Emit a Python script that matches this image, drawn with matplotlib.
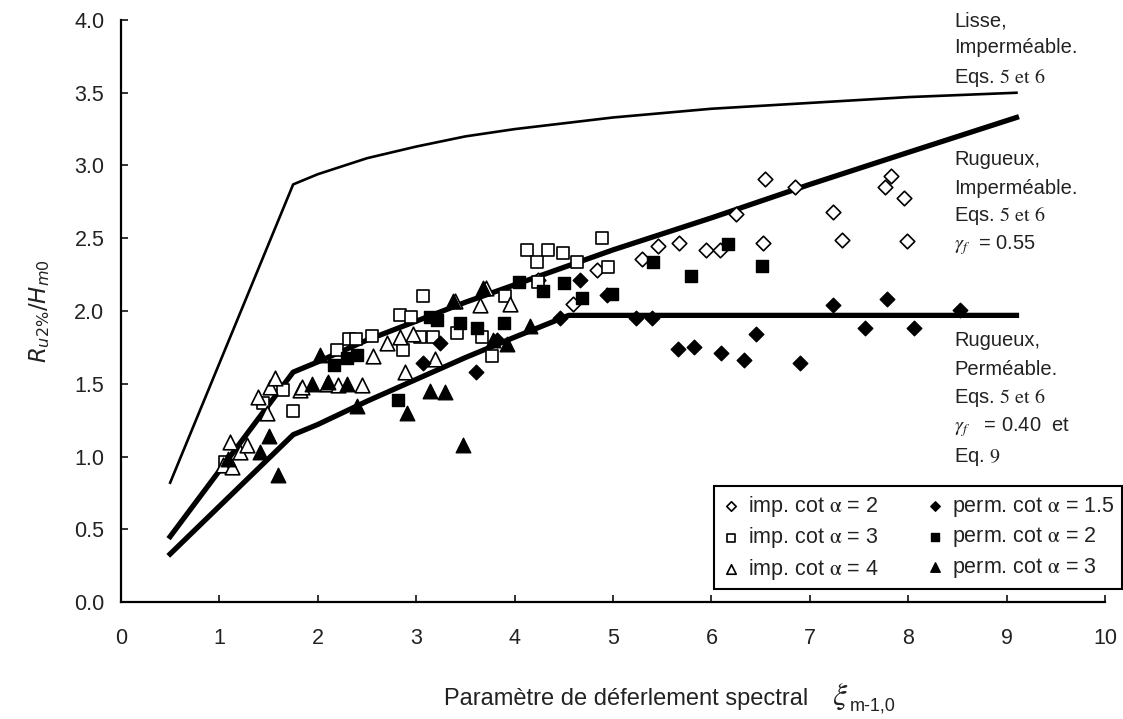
import matplotlib.pyplot as plt

plt.rcParams['font.family'] = ['Liberation Sans', 'DejaVu Sans']
plt.rcParams['mathtext.fontset'] = 'stix'

# design curves
lisse_x = [0.5, 1.75, 2.0, 2.5, 3.0, 3.5, 4.0, 5.0, 6.0, 7.0, 8.0, 9.1]
lisse_y = [0.82, 2.87, 2.94, 3.05, 3.13, 3.20, 3.25, 3.33, 3.39, 3.43, 3.47, 3.50]

rug_imp_x = [0.5, 1.75, 2.0, 2.5, 3.0, 3.5, 4.0, 5.0, 6.0, 7.0, 8.0, 9.1]
rug_imp_y = [0.45, 1.58, 1.65, 1.80, 1.93, 2.06, 2.18, 2.42, 2.64, 2.87, 3.09, 3.33]

rug_perm_x = [0.5, 1.75, 2.0, 2.5, 3.0, 3.5, 4.0, 4.55, 9.1]
rug_perm_y = [0.33, 1.15, 1.22, 1.38, 1.53, 1.68, 1.82, 1.97, 1.97]

# measurements
imp2_x = [4.24, 4.59, 4.84, 5.29, 5.46, 5.67, 5.95, 6.09, 6.25, 6.52, 6.54, 6.85,
          7.24, 7.33, 7.76, 7.83, 7.96, 7.99]
imp2_y = [2.21, 2.05, 2.28, 2.36, 2.45, 2.47, 2.42, 2.42, 2.67, 2.47, 2.91, 2.85,
          2.68, 2.49, 2.85, 2.93, 2.78, 2.48]

imp3_x = [1.06, 1.44, 1.65, 1.75, 2.20, 2.32, 2.39, 2.55, 2.84, 2.87, 2.95, 3.04,
          3.07, 3.17, 3.41, 3.67, 3.77, 3.90, 4.13, 4.23, 4.24, 4.34, 4.49, 4.63,
          4.89, 4.95]
imp3_y = [0.96, 1.37, 1.46, 1.31, 1.73, 1.81, 1.81, 1.83, 1.97, 1.73, 1.96, 1.82,
          2.10, 1.82, 1.85, 1.82, 1.69, 2.10, 2.42, 2.34, 2.20, 2.42, 2.40, 2.34,
          2.50, 2.30]

imp4_x = [1.04, 1.11, 1.13, 1.21, 1.28, 1.39, 1.48, 1.51, 1.57, 1.82, 1.84, 2.09,
          2.21, 2.45, 2.56, 2.70, 2.84, 2.89, 2.97, 3.19, 3.39, 3.65, 3.71, 3.95]
imp4_y = [0.94, 1.10, 0.93, 1.03, 1.08, 1.41, 1.30, 1.48, 1.54, 1.46, 1.48, 1.50,
          1.49, 1.49, 1.69, 1.78, 1.82, 1.58, 1.84, 1.67, 2.07, 2.04, 2.16, 2.05]

perm15_x = [3.07, 3.24, 3.61, 3.82, 4.46, 4.66, 4.94, 5.23, 5.40, 5.66, 5.82, 6.10,
            6.33, 6.45, 6.90, 7.24, 7.56, 7.78, 8.06, 8.53]
perm15_y = [1.64, 1.78, 1.58, 1.80, 1.95, 2.21, 2.11, 1.95, 1.95, 1.74, 1.75, 1.71,
            1.66, 1.84, 1.64, 2.04, 1.88, 2.08, 1.88, 2.01]

perm2_x = [2.17, 2.30, 2.40, 2.82, 3.14, 3.21, 3.45, 3.62, 3.89, 4.04, 4.29, 4.50,
           4.69, 4.99, 5.41, 5.79, 6.17, 6.51]
perm2_y = [1.63, 1.68, 1.70, 1.39, 1.96, 1.94, 1.92, 1.88, 1.92, 2.20, 2.14, 2.19,
           2.09, 2.12, 2.34, 2.24, 2.46, 2.31]

perm3_x = [1.09, 1.41, 1.50, 1.60, 1.94, 2.02, 2.10, 2.30, 2.40, 2.91, 3.14, 3.29,
           3.37, 3.48, 3.68, 3.78, 3.92, 4.16]
perm3_y = [0.98, 1.03, 1.14, 0.87, 1.50, 1.70, 1.51, 1.50, 1.35, 1.30, 1.45, 1.44,
           2.07, 1.08, 2.16, 1.80, 1.77, 1.90]

fig = plt.figure(figsize=(11.23, 7.19), dpi=100)
ax = fig.add_axes([0.1077, 0.1627, 0.8763, 0.8095])

ax.plot(lisse_x, lisse_y, color='k', lw=1.9, zorder=2)
ax.plot(rug_imp_x, rug_imp_y, color='k', lw=3.8, zorder=2)
ax.plot(rug_perm_x, rug_perm_y, color='k', lw=3.8, zorder=2)

open_kw = dict(facecolor='white', edgecolor='k', linewidths=1.2, zorder=3)
fill_kw = dict(facecolor='k', edgecolor='k', linewidths=1.0, zorder=3)
ax.scatter(imp2_x, imp2_y, marker='D', s=55, label=r'imp. cot $\mathrm{\alpha}$ = 2', **open_kw)
ax.scatter(imp3_x, imp3_y, marker='s', s=75, label=r'imp. cot $\mathrm{\alpha}$ = 3', **open_kw)
ax.scatter(imp4_x, imp4_y, marker='^', s=110, label=r'imp. cot $\mathrm{\alpha}$ = 4', **open_kw)
ax.scatter(perm15_x, perm15_y, marker='D', s=55, label=r'perm. cot $\mathrm{\alpha}$ = 1.5', **fill_kw)
ax.scatter(perm2_x, perm2_y, marker='s', s=75, label=r'perm. cot $\mathrm{\alpha}$ = 2', **fill_kw)
ax.scatter(perm3_x, perm3_y, marker='^', s=110, label=r'perm. cot $\mathrm{\alpha}$ = 3', **fill_kw)

ax.set_xlim(0, 10)
ax.set_ylim(0, 4.0)
ax.set_xticks(range(0, 11))
ax.set_yticks([0.0, 0.5, 1.0, 1.5, 2.0, 2.5, 3.0, 3.5, 4.0])
ax.set_yticklabels(['{:.1f}'.format(v) for v in ax.get_yticks()])
ax.tick_params(direction='in', length=5, width=1.3, labelsize=15.5, colors='#222222')
ax.tick_params(axis='x', pad=19)
ax.tick_params(axis='y', pad=12)
for side in ['top', 'right']:
    ax.spines[side].set_visible(False)
for side in ['left', 'bottom']:
    ax.spines[side].set_linewidth(1.6)

ax.set_ylabel(r'$R_{u2\%}/H_{m0}$', fontsize=16.5, labelpad=16, color='#222222',
              math_fontfamily='dejavusans')
# x label: French text plus a larger xi symbol, as in the original figure
fig.text(0.395, 0.019, 'Paramètre de déferlement spectral', fontsize=17,
         color='#222222', ha='left', va='baseline')
fig.text(0.741, 0.019, r'$\xi$', fontsize=23, color='#222222', ha='left', va='baseline')
fig.text(0.757, 0.012, 'm-1,0', fontsize=13, color='#222222', ha='left', va='baseline')

# curve annotations
tx = 8.47
txt_kw = dict(fontsize=14.5, color='#222222', va='center', ha='left')
ax.text(tx, 3.99, 'Lisse,', **txt_kw)
ax.text(tx, 3.81, 'Imperméable.', **txt_kw)
ax.text(tx, 3.60, r'Eqs. $\mathrm{5\ et\ 6}$', **txt_kw)
ax.text(tx, 3.04, 'Rugueux,', **txt_kw)
ax.text(tx, 2.84, 'Imperméable.', **txt_kw)
ax.text(tx, 2.65, r'Eqs. $\mathrm{5\ et\ 6}$', **txt_kw)
ax.text(tx, 2.45, r'$\gamma_f$  = 0.55', **txt_kw)
ax.text(tx, 1.80, 'Rugueux,', **txt_kw)
ax.text(tx, 1.60, 'Perméable.', **txt_kw)
ax.text(tx, 1.40, r'Eqs. $\mathrm{5\ et\ 6}$', **txt_kw)
ax.text(tx, 1.20, r'$\gamma_f$   = 0.40  et', **txt_kw)
ax.text(tx, 1.00, r'Eq. $\mathrm{9}$', **txt_kw)

leg = ax.legend(ncol=2, loc='lower right', bbox_to_anchor=(1.017, 0.022), fontsize=15.5,
                frameon=True, fancybox=False, edgecolor='k', framealpha=1,
                markerscale=0.65, handletextpad=0.3, handlelength=0.9,
                columnspacing=2.2, labelspacing=0.3, borderpad=0.35, borderaxespad=0)
leg.get_frame().set_linewidth(1.5)
for t in leg.get_texts():
    t.set_color('#222222')

fig.savefig('out.png', dpi=100)
